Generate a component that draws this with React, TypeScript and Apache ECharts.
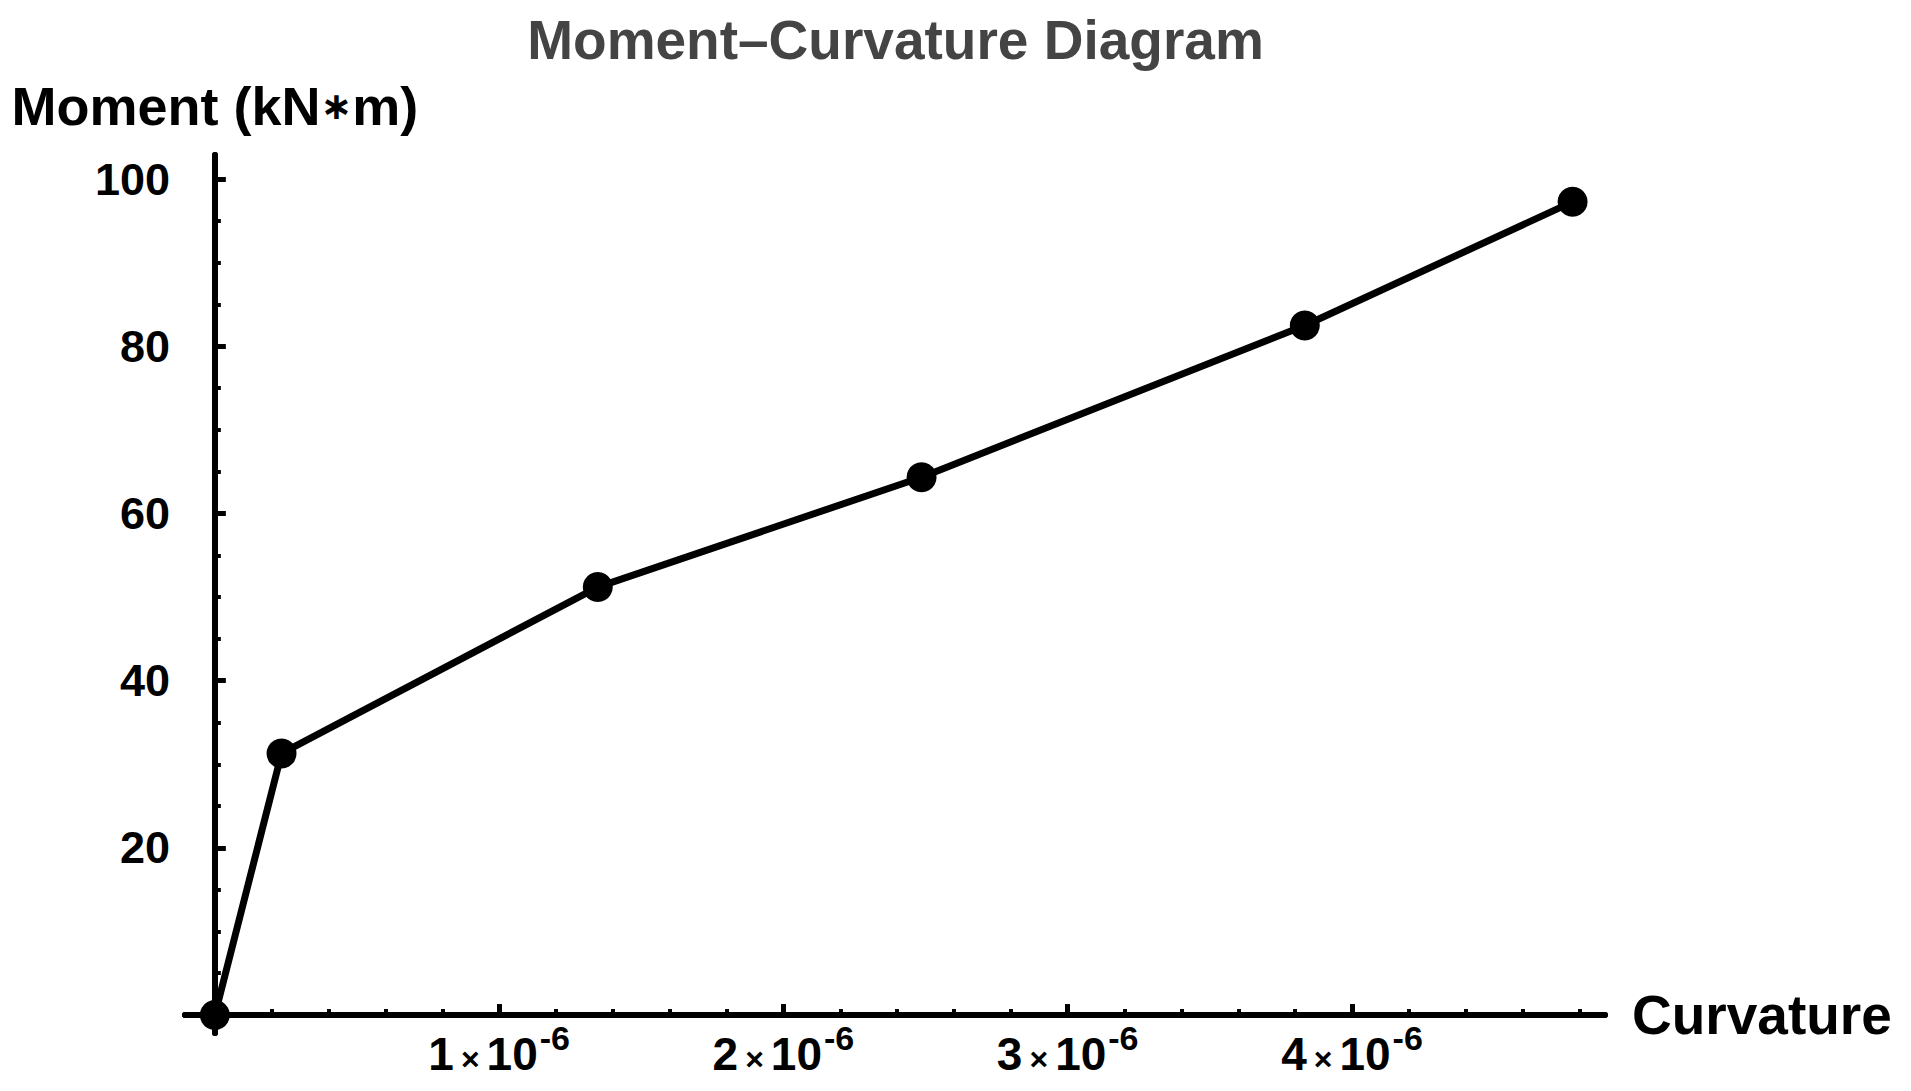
import React, { useEffect, useRef } from "react";
import * as echarts from "echarts";

// Data
const curvature = [0, 0.2346e-6, 1.347e-6, 2.486e-6, 3.834e-6, 4.776e-6];
const moment = [0, 31.3, 51.2, 64.35, 82.5, 97.3];

// Tick values
const xMajorTicks = [1e-6, 2e-6, 3e-6, 4e-6];
const xMinorTicks = [
  0.2e-6, 0.4e-6, 0.6e-6, 0.8e-6,
  1.2e-6, 1.4e-6, 1.6e-6, 1.8e-6,
  2.2e-6, 2.4e-6, 2.6e-6, 2.8e-6,
  3.2e-6, 3.4e-6, 3.6e-6, 3.8e-6,
  4.2e-6, 4.4e-6, 4.6e-6, 4.8e-6,
];
const yMajorTicks = [20, 40, 60, 80, 100];
const yMinorTicks = [5, 10, 15, 25, 30, 35, 45, 50, 55, 65, 70, 75, 85, 90, 95];

const xRange = [-0.105e-6, 4.89e-6];
const yRange = [-2.15, 102.9];

const titleText = "Moment\u2013Curvature Diagram";
const xName = "Curvature";
const yName = "Moment (kN{a|\u2217}m)";

const FONT = "'Liberation Sans', Arial, Helvetica, sans-serif";

export default function App() {
  const ref = useRef<HTMLDivElement>(null);

  useEffect(() => {
    if (!ref.current) return;
    const chart = echarts.init(ref.current, undefined, { renderer: "svg" });

    const gridRect = { left: 185, right: 306, top: 155, bottom: 58 };
    const axisLine = { show: true, onZero: true, lineStyle: { color: "#000", width: 6 } };

    const xLabelFormatter = (v: number) => {
      const n = Math.round(v * 1e6);
      return `{b|${n}}{x|\u00d7}{b|10}{s|-6}`;
    };

    const option: any = {
      animation: false,
      backgroundColor: "#fff",
      title: {
        text: titleText,
        left: 895.5,
        top: 12,
        padding: 0,
        textAlign: "center",
        textStyle: { fontFamily: FONT, fontSize: 55, fontWeight: "bold", color: "#444444" },
      },
      grid: [
        { ...gridRect, containLabel: false, outerBoundsMode: "none" },
        { ...gridRect, containLabel: false, outerBoundsMode: "none" },
      ],
      xAxis: [
        {
          type: "value",
          gridIndex: 0,
          min: xRange[0],
          max: xRange[1],
          axisLine,
          splitLine: { show: false },
          axisTick: {
            show: true,
            inside: true,
            length: 11,
            customValues: xMajorTicks,
            lineStyle: { color: "#000", width: 5 },
          },
          axisLabel: {
            show: true,
            customValues: xMajorTicks,
            margin: -12,
            formatter: xLabelFormatter,
            rich: {
              b: { fontFamily: FONT, fontSize: 46, fontWeight: "bold", color: "#000", lineHeight: 56, verticalAlign: "bottom" },
              x: { fontFamily: FONT, fontSize: 32, fontWeight: "bold", color: "#000", lineHeight: 56, verticalAlign: "bottom", padding: [0, 7, 2, 7] },
              s: { fontFamily: FONT, fontSize: 34, fontWeight: "bold", color: "#000", verticalAlign: "top", padding: [0, 0, 0, 2] },
            },
          },
          name: xName,
          nameLocation: "end",
          nameGap: 27,
          nameTextStyle: { fontFamily: FONT, fontSize: 55, fontWeight: "bold", color: "#000", verticalAlign: "middle" },
        },
        {
          type: "value",
          gridIndex: 1,
          min: xRange[0],
          max: xRange[1],
          axisLine,
          splitLine: { show: false },
          axisTick: {
            show: true,
            inside: true,
            length: 6,
            customValues: xMinorTicks,
            lineStyle: { color: "#000", width: 4 },
          },
          axisLabel: { show: false },
        },
      ],
      yAxis: [
        {
          type: "value",
          gridIndex: 0,
          min: yRange[0],
          max: yRange[1],
          axisLine,
          splitLine: { show: false },
          axisTick: {
            show: true,
            inside: true,
            length: 11,
            customValues: yMajorTicks,
            lineStyle: { color: "#000", width: 5 },
          },
          axisLabel: {
            show: true,
            customValues: yMajorTicks,
            margin: 15,
            fontFamily: FONT,
            fontSize: 45,
            fontWeight: "bold",
            color: "#000",
          },
          name: yName,
          nameLocation: "end",
          nameGap: 22,
          nameTextStyle: {
            fontFamily: FONT,
            fontSize: 54,
            fontWeight: "bold",
            color: "#000",
            align: "center",
            rich: {
              a: { fontFamily: "'DejaVu Sans', sans-serif", fontSize: 38, fontWeight: "bold", color: "#000" },
            },
          },
        },
        {
          type: "value",
          gridIndex: 1,
          min: yRange[0],
          max: yRange[1],
          axisLine,
          splitLine: { show: false },
          axisTick: {
            show: true,
            inside: true,
            length: 6,
            customValues: yMinorTicks,
            lineStyle: { color: "#000", width: 4 },
          },
          axisLabel: { show: false },
        },
      ],
      series: [
        {
          type: "line",
          xAxisIndex: 0,
          yAxisIndex: 0,
          data: curvature.map((c, i) => [c, moment[i]]),
          lineStyle: { color: "#000", width: 7 },
          itemStyle: { color: "#000" },
          symbol: "circle",
          symbolSize: 30,
          showSymbol: true,
          clip: false,
          z: 5,
        },
      ],
    };

    chart.setOption(option);
    return () => chart.dispose();
  }, []);

  return (
    <div
      ref={ref}
      style={{ position: "fixed", left: 0, top: 0, width: 1911, height: 1091, background: "#fff" }}
    />
  );
}
